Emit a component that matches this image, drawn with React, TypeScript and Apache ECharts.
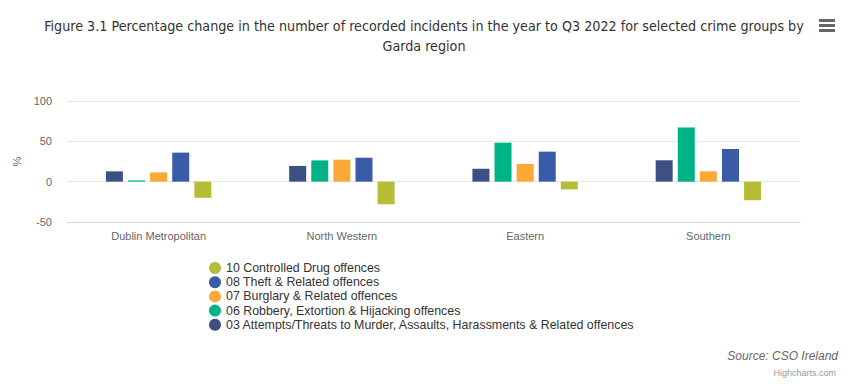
import React, { useEffect, useRef } from "react";
import * as echarts from "echarts";

const categories = ["Dublin Metropolitan", "North Western", "Eastern", "Southern"];
const seriesNames = [
  "03 Attempts/Threats to Murder, Assaults, Harassments & Related offences",
  "06 Robbery, Extortion & Hijacking offences",
  "07 Burglary & Related offences",
  "08 Theft & Related offences",
  "10 Controlled Drug offences",
];
const assaults = [12.8, 19.5, 16, 26.5];
const robbery = [1.6, 26.4, 48.3, 67];
const burglary = [11.5, 27.3, 21.9, 12.8];
const theft = [36, 29.7, 37.2, 40.5];
const drugs = [-20, -28, -9.5, -23];
const seriesValues = [assaults, robbery, burglary, theft, drugs];
const colors = ["#3d5083", "#00b386", "#fca835", "#3a5ba8", "#b5bd34"];
const legendOrder = [4, 3, 2, 1, 0];

const FONT = "'Liberation Sans', Arial, sans-serif";

export default function App() {
  const ref = useRef<HTMLDivElement>(null);
  useEffect(() => {
    document.body.style.margin = "0";
    const chart = echarts.init(ref.current!, null, { renderer: "svg" });
    chart.setOption({
      animation: false,
      textStyle: { fontFamily: FONT },
      title: {
        text:
          "Figure 3.1 Percentage change in the number of recorded incidents in the year to Q3 2022 for selected crime groups by\nGarda region",
        left: 419,
        textAlign: "center",
        top: 11,
        textStyle: {
          fontFamily: "'Liberation Sans Narrow', 'DejaVu Sans Condensed', sans-serif",
          fontSize: 14.2,
          fontWeight: "normal",
          color: "#333333",
          lineHeight: 20,
        },
      },
      grid: { left: 67, right: 52, top: 101, bottom: 165 },
      legend: {
        orient: "vertical",
        left: 204,
        top: 257,
        itemGap: 2.2,
        itemWidth: 12,
        itemHeight: 12,
        icon: "circle",
        data: legendOrder.map((i) => seriesNames[i]),
        textStyle: { fontSize: 12.4, color: "#333333", fontFamily: FONT },
      },
      xAxis: {
        type: "category",
        data: categories,
        axisLine: { onZero: false, lineStyle: { color: "#ccd6eb" } },
        axisTick: { show: false },
        axisLabel: { color: "#666666", fontSize: 11, margin: 8 },
      },
      yAxis: {
        type: "value",
        min: -50,
        max: 100,
        interval: 50,
        name: "%",
        nameLocation: "middle",
        nameGap: 41,
        nameRotate: 90,
        nameTextStyle: { color: "#666666", fontSize: 11 },
        axisLabel: { color: "#666666", fontSize: 11, margin: 15 },
        splitLine: { lineStyle: { color: "#e6e6e6" } },
      },
      series: seriesNames.map((name, i) => ({
        name,
        type: "bar",
        data: seriesValues[i],
        barWidth: 17,
        barGap: "30%",
        itemStyle: { color: colors[i] },
      })),
      graphic: [
        { type: "rect", shape: { x: 819, y: 19, width: 16, height: 3 }, style: { fill: "#666666" } },
        { type: "rect", shape: { x: 819, y: 24, width: 16, height: 3 }, style: { fill: "#666666" } },
        { type: "rect", shape: { x: 819, y: 29, width: 16, height: 3 }, style: { fill: "#666666" } },
        {
          type: "text",
          x: 838,
          y: 356,
          style: {
            text: "Source: CSO Ireland",
            align: "right",
            verticalAlign: "middle",
            fontStyle: "italic",
            fontSize: 12,
            fill: "#666666",
            fontFamily: FONT,
          },
        },
        {
          type: "text",
          x: 836,
          y: 373,
          style: {
            text: "Highcharts.com",
            align: "right",
            verticalAlign: "middle",
            fontSize: 9,
            fill: "#999999",
            fontFamily: FONT,
          },
        },
      ],
    });
    return () => chart.dispose();
  }, []);
  return <div ref={ref} style={{ width: 852, height: 387 }} />;
}
